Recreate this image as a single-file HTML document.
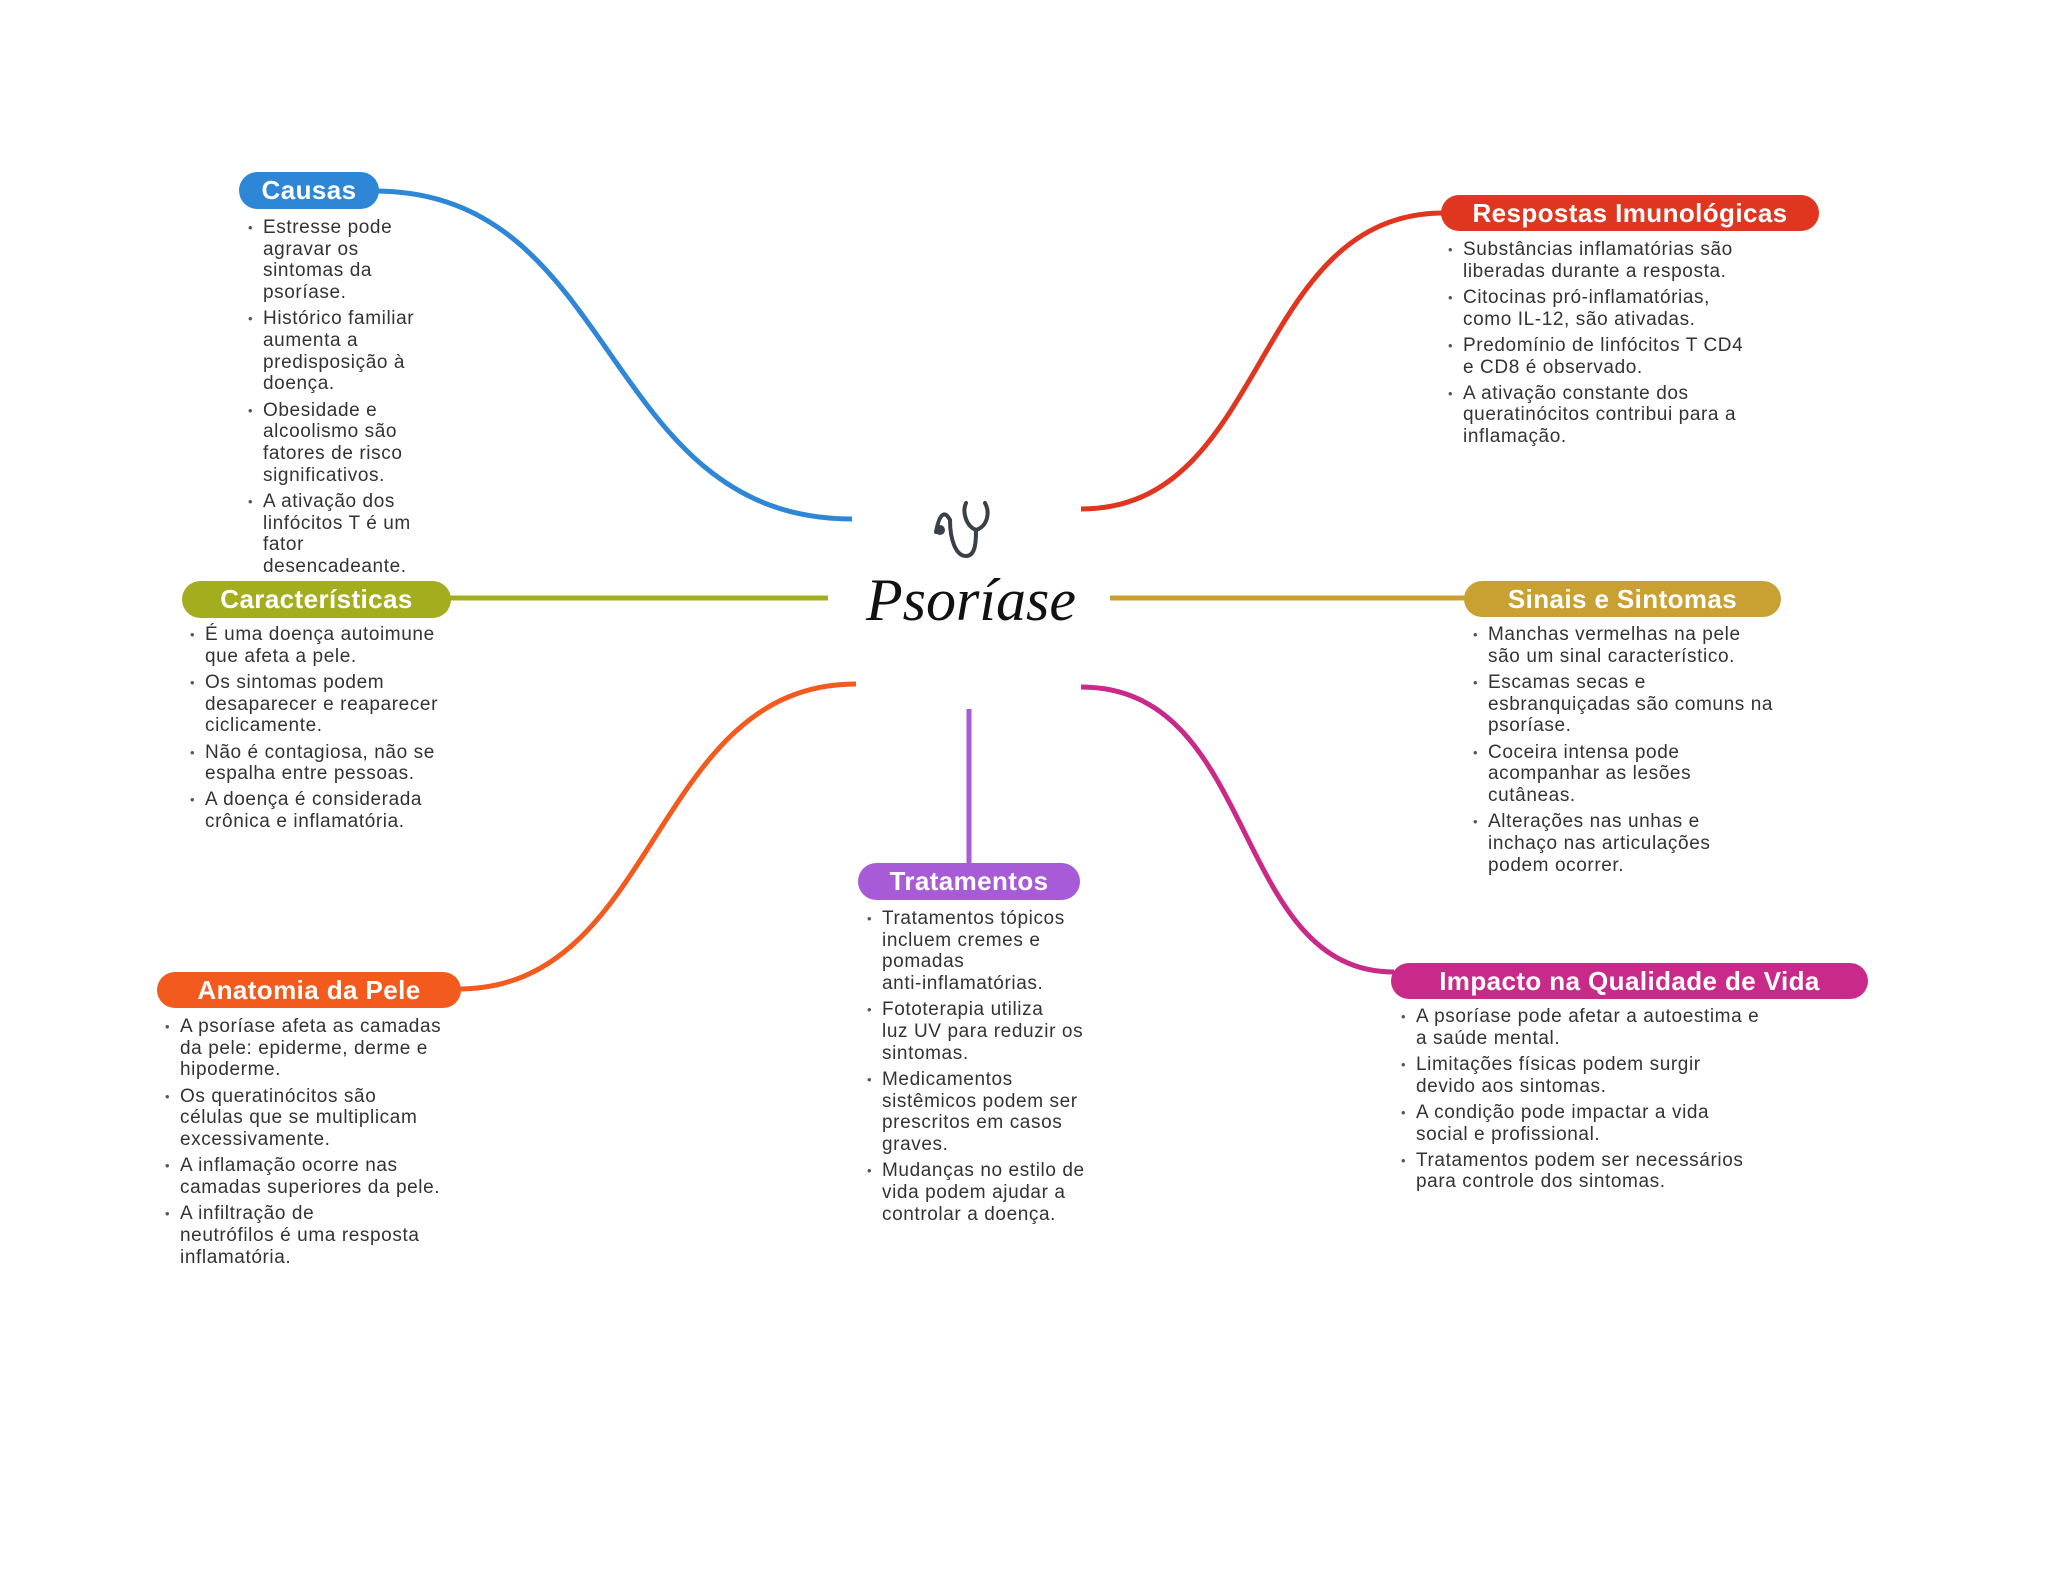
<!DOCTYPE html>
<html><head><meta charset="utf-8"><style>
body{margin:0;width:2048px;height:1569px;background:#fff;position:relative;overflow:hidden;font-family:"Liberation Sans",sans-serif}
.pill{position:absolute;color:#fff;font-weight:bold;font-size:26px;letter-spacing:0.4px;display:flex;align-items:center;justify-content:center;border-radius:19px;white-space:nowrap}
.list{position:absolute;font-size:19px;letter-spacing:0.6px;color:#333;line-height:21.7px;white-space:nowrap}
.list div{position:relative;margin-bottom:4.5px}
.list div:before{content:"•";position:absolute;left:-15px;font-size:13px;color:#555}
</style></head><body>
<svg width="2048" height="1569" style="position:absolute;left:0;top:0" fill="none" stroke-width="5">
<path d="M375 191 C620 191 600 519 852 519" stroke="#2e86d6"/>
<path d="M448 598 L828 598" stroke="#a3ad1e"/>
<path d="M458 989 C660 989 650 684 856 684" stroke="#f25a1e"/>
<path d="M969 709 L969 866" stroke="#a85bd6"/>
<path d="M1081 509 C1270 509 1250 213 1444 213" stroke="#e0351e"/>
<path d="M1110 598 L1466 598" stroke="#c9a032"/>
<path d="M1081 687 C1260 687 1230 972 1394 972" stroke="#c92a8a"/>
<g stroke="#3a4048" stroke-width="4" stroke-linecap="round">
<path d="M950 520 C950 540 956 556 966 556 C976 556 976 540 976 530"/>
<path d="M976 530 C988 526 990 512 985 503"/>
<path d="M976 530 C966 526 962 512 966 503"/>
<path d="M950 520 C946 512 940 510 936 532"/>
</g>
<circle cx="940" cy="530" r="5" fill="#3a4048"/>
</svg>
<div style="position:absolute;left:860px;top:566px;width:222px;text-align:center;font-family:'Liberation Serif',serif;font-style:italic;font-size:60px;color:#111">Psoríase</div>

<div class="pill" style="left:239px;top:172px;width:140px;height:37px;background:#2e86d6">Causas</div>
<div class="list" style="left:263px;top:217px">
<div>Estresse pode<br>agravar os<br>sintomas da<br>psoríase.</div>
<div>Histórico familiar<br>aumenta a<br>predisposição à<br>doença.</div>
<div>Obesidade e<br>alcoolismo são<br>fatores de risco<br>significativos.</div>
<div>A ativação dos<br>linfócitos T é um<br>fator<br>desencadeante.</div>
</div>

<div class="pill" style="left:182px;top:581px;width:269px;height:37px;background:#a3ad1e">Características</div>
<div class="list" style="left:205px;top:624px">
<div>É uma doença autoimune<br>que afeta a pele.</div>
<div>Os sintomas podem<br>desaparecer e reaparecer<br>ciclicamente.</div>
<div>Não é contagiosa, não se<br>espalha entre pessoas.</div>
<div>A doença é considerada<br>crônica e inflamatória.</div>
</div>

<div class="pill" style="left:157px;top:972px;width:304px;height:36px;background:#f25a1e">Anatomia da Pele</div>
<div class="list" style="left:180px;top:1016px">
<div>A psoríase afeta as camadas<br>da pele: epiderme, derme e<br>hipoderme.</div>
<div>Os queratinócitos são<br>células que se multiplicam<br>excessivamente.</div>
<div>A inflamação ocorre nas<br>camadas superiores da pele.</div>
<div>A infiltração de<br>neutrófilos é uma resposta<br>inflamatória.</div>
</div>

<div class="pill" style="left:858px;top:863px;width:222px;height:37px;background:#a85bd6">Tratamentos</div>
<div class="list" style="left:882px;top:908px">
<div>Tratamentos tópicos<br>incluem cremes e<br>pomadas<br>anti-inflamatórias.</div>
<div>Fototerapia utiliza<br>luz UV para reduzir os<br>sintomas.</div>
<div>Medicamentos<br>sistêmicos podem ser<br>prescritos em casos<br>graves.</div>
<div>Mudanças no estilo de<br>vida podem ajudar a<br>controlar a doença.</div>
</div>

<div class="pill" style="left:1441px;top:195px;width:378px;height:36px;background:#e0351e">Respostas Imunológicas</div>
<div class="list" style="left:1463px;top:239px">
<div>Substâncias inflamatórias são<br>liberadas durante a resposta.</div>
<div>Citocinas pró-inflamatórias,<br>como IL-12, são ativadas.</div>
<div>Predomínio de linfócitos T CD4<br>e CD8 é observado.</div>
<div>A ativação constante dos<br>queratinócitos contribui para a<br>inflamação.</div>
</div>

<div class="pill" style="left:1464px;top:581px;width:317px;height:36px;background:#c9a032">Sinais e Sintomas</div>
<div class="list" style="left:1488px;top:624px">
<div>Manchas vermelhas na pele<br>são um sinal característico.</div>
<div>Escamas secas e<br>esbranquiçadas são comuns na<br>psoríase.</div>
<div>Coceira intensa pode<br>acompanhar as lesões<br>cutâneas.</div>
<div>Alterações nas unhas e<br>inchaço nas articulações<br>podem ocorrer.</div>
</div>

<div class="pill" style="left:1391px;top:963px;width:477px;height:36px;background:#c92a8a">Impacto na Qualidade de Vida</div>
<div class="list" style="left:1416px;top:1006px">
<div>A psoríase pode afetar a autoestima e<br>a saúde mental.</div>
<div>Limitações físicas podem surgir<br>devido aos sintomas.</div>
<div>A condição pode impactar a vida<br>social e profissional.</div>
<div>Tratamentos podem ser necessários<br>para controle dos sintomas.</div>
</div>
</body></html>
